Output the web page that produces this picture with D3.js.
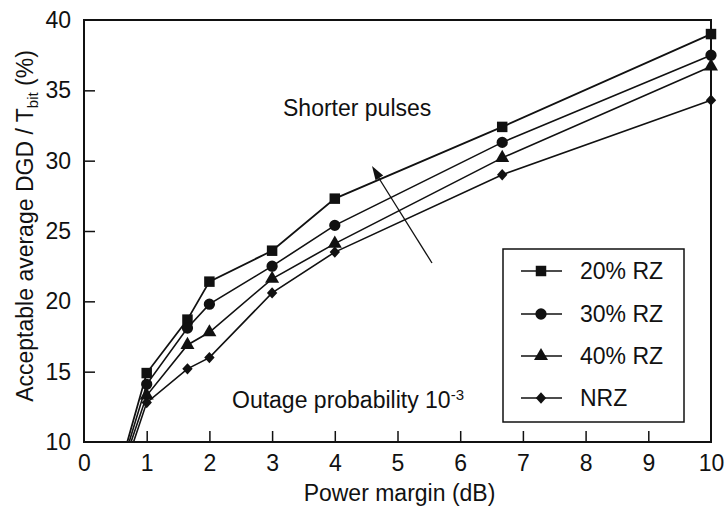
<!DOCTYPE html>
<html><head><meta charset="utf-8">
<script src="https://cdn.jsdelivr.net/npm/d3@7"></script>
<style>body{margin:0;background:#fff;} text{font-family:"Liberation Sans",Arial,sans-serif;fill:#111;}</style>
</head><body><svg id="c" width="725" height="508"></svg>
<script>
const xPoints = [0.7, 1, 1.65, 2, 3, 4, 6.67, 10];
const rz20 = [10.0, 14.9, 18.7, 21.4, 23.6, 27.3, 32.4, 39.0];
const rz30 = [10.0, 14.1, 18.1, 19.8, 22.5, 25.4, 31.3, 37.5];
const rz40 = [10.0, 13.3, 16.9, 17.8, 21.6, 24.1, 30.2, 36.7];
const nrz  = [10.0, 12.8, 15.2, 16.0, 20.6, 23.5, 29.0, 34.3];
const seriesNames = ["20% RZ", "30% RZ", "40% RZ", "NRZ"];
const xTicks = [0,1,2,3,4,5,6,7,8,9,10];
const yTicks = [10,15,20,25,30,35,40];
const startX = [0.69, 0.72, 0.75, 0.79];

const svg = d3.select("#c");
const L=84, R=711, T=20, B=442;
const FS = "23px";
const x = d3.scaleLinear().domain([0,10]).range([L,R]);
const y = d3.scaleLinear().domain([10,40]).range([B,T]);

svg.append("defs").append("clipPath").attr("id","clip").append("rect")
  .attr("x",L).attr("y",T-10).attr("width",R-L+10).attr("height",B-T+10);

// axes
const xa = svg.append("g").attr("transform",`translate(0,${B})`)
  .call(d3.axisBottom(x).tickValues(xTicks).tickSize(-11).tickPadding(13).tickFormat(d3.format("d")));
const ya = svg.append("g").attr("transform",`translate(${L},0)`)
  .call(d3.axisLeft(y).tickValues(yTicks).tickSize(-11).tickPadding(13).tickFormat(d3.format("d")));
[xa,ya].forEach(a=>{
  a.select(".domain").remove();
  a.selectAll("line").attr("stroke","#111").attr("stroke-width",1.5);
  a.selectAll("text").style("font-size",FS).attr("fill","#111");
});
ya.selectAll(".tick").filter(d=>d===10||d===40).select("line").remove();
xa.selectAll(".tick").filter(d=>d===0||d===10).select("line").remove();
svg.append("rect").attr("x",L).attr("y",T).attr("width",R-L).attr("height",B-T)
  .attr("fill","none").attr("stroke","#111").attr("stroke-width",2);

// series
const all = [rz20, rz30, rz40, nrz];
const diamond = {draw(ctx, size){const w=Math.sqrt(size)*0.62, h=Math.sqrt(size)*0.68;
  ctx.moveTo(0,-h);ctx.lineTo(w,0);ctx.lineTo(0,h);ctx.lineTo(-w,0);ctx.closePath();}};
const shapes = [d3.symbolSquare, d3.symbolCircle, d3.symbolTriangle, diamond];
const sizes = [110, 100, 85, 70];
const line = d3.line().x(d=>x(d[0])).y(d=>y(d[1]));
const g = svg.append("g").attr("clip-path","url(#clip)");
all.forEach((vals,i)=>{
  const pts = vals.map((v,j)=>[j===0?startX[i]:xPoints[j], v]);
  g.append("path").datum(pts).attr("d",line).attr("fill","none")
    .attr("stroke","#111").attr("stroke-width",i===0?1.8:1.6);
  g.selectAll(null).data(pts.slice(1)).enter().append("path")
    .attr("d",d3.symbol().type(shapes[i]).size(sizes[i]))
    .attr("transform",d=>`translate(${x(d[0])},${y(d[1])})`)
    .attr("fill","#111");
});

// legend
svg.append("rect").attr("x",503).attr("y",249).attr("width",181).attr("height",173)
  .attr("fill","#fff").attr("stroke","#111").attr("stroke-width",1.5);
const ly = [271,314,356,398];
seriesNames.forEach((n,i)=>{
  svg.append("line").attr("x1",521).attr("x2",562).attr("y1",ly[i]).attr("y2",ly[i])
    .attr("stroke","#111").attr("stroke-width",1.6);
  svg.append("path").attr("d",d3.symbol().type(shapes[i]).size(sizes[i]))
    .attr("transform",`translate(541,${ly[i]})`).attr("fill","#111");
  svg.append("text").attr("x",580).attr("y",ly[i]).attr("dy","0.36em")
    .style("font-size",FS).text(n);
});

// annotations
svg.append("text").attr("x",283).attr("y",116).style("font-size",FS).text("Shorter pulses");
const ax1=432, ay1=263, ax2=372, ay2=166;
svg.append("line").attr("x1",ax1).attr("y1",ay1).attr("x2",ax2+3).attr("y2",ay2+6)
  .attr("stroke","#111").attr("stroke-width",1.3);
const ang = Math.atan2(ay2-ay1, ax2-ax1);
const hl=14, hw=4.5;
const bx = ax2 - hl*Math.cos(ang), by = ay2 - hl*Math.sin(ang);
svg.append("path").attr("d",`M${ax2},${ay2} L${bx+hw*Math.sin(ang)},${by-hw*Math.cos(ang)} L${bx-hw*Math.sin(ang)},${by+hw*Math.cos(ang)} Z`).attr("fill","#111");

const ot = svg.append("text").attr("x",232).attr("y",408).style("font-size",FS);
ot.append("tspan").text("Outage probability 10");
ot.append("tspan").attr("dy","-8").style("font-size","15px").text("-3");

// axis titles
svg.append("text").attr("x",(L+R)/2+2).attr("y",501).attr("text-anchor","middle")
  .style("font-size",FS).text("Power margin (dB)");
const yt = svg.append("text").attr("transform",`translate(33,226) rotate(-90)`)
  .attr("text-anchor","middle").style("font-size",FS);
yt.append("tspan").text("Acceptable average DGD / T");
yt.append("tspan").attr("dy","5").style("font-size","15px").text("bit");
yt.append("tspan").attr("dy","-5").text(" (%)");
</script></body></html>
